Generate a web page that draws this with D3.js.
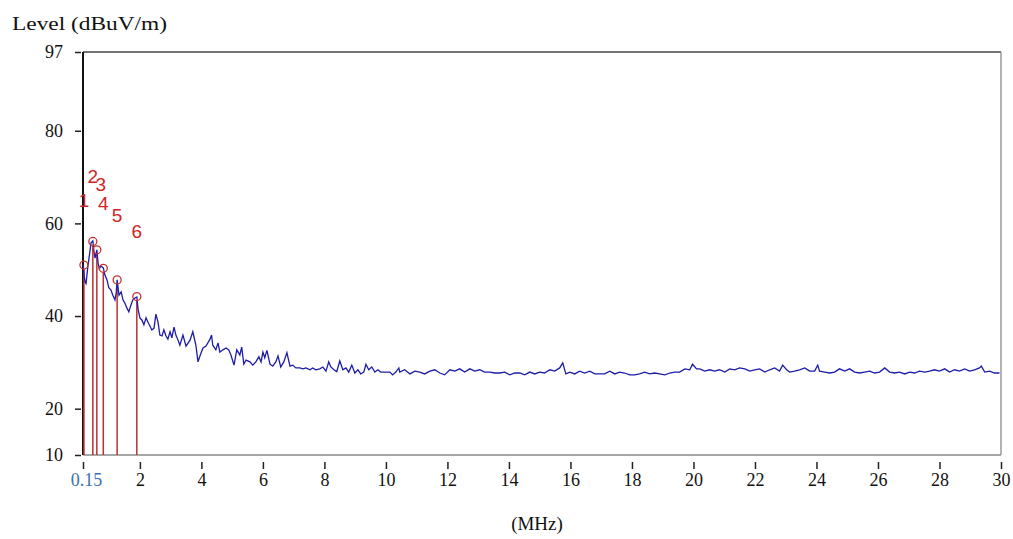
<!DOCTYPE html>
<html>
<head>
<meta charset="utf-8">
<script src="https://cdn.jsdelivr.net/npm/d3@7"></script>
<style>
  html, body { margin: 0; padding: 0; background: #fff; }
  svg { display: block; }
</style>
</head>
<body>
<svg id="chart" width="1013" height="539"></svg>
<script>
// ---- data ----
const yTickValues = [10, 20, 40, 60, 80, 97];
const xTickValues = [0.15, 2, 4, 6, 8, 10, 12, 14, 16, 18, 20, 22, 24, 26, 28, 30];

const traceFreq = [
  0.16, 0.19, 0.22, 0.25, 0.28, 0.31, 0.36, 0.41, 0.47, 0.51, 0.54, 0.60, 0.64, 0.68, 0.73, 0.81,
  0.86, 0.93, 0.99, 1.06, 1.12, 1.19, 1.23, 1.26, 1.32, 1.39, 1.45, 1.51, 1.58, 1.64, 1.71, 1.77,
  1.84, 1.90, 1.94, 2.00, 2.07, 2.13, 2.20, 2.26, 2.33, 2.39, 2.46, 2.52, 2.59, 2.65, 2.72, 2.78,
  2.85, 2.91, 2.98, 3.04, 3.11, 3.17, 3.24, 3.30, 3.40, 3.50, 3.63, 3.72, 3.82, 3.89, 3.95, 4.05,
  4.15, 4.28, 4.33, 4.37, 4.47, 4.54, 4.60, 4.70, 4.80, 4.89, 4.96, 5.06, 5.15, 5.25, 5.31, 5.38,
  5.45, 5.58, 5.67, 5.77, 5.87, 5.94, 6.00, 6.06, 6.13, 6.23, 6.32, 6.42, 6.49, 6.58, 6.68, 6.78,
  6.88, 6.97, 7.07, 7.20, 7.30, 7.40, 7.53, 7.62, 7.72, 7.85, 7.95, 8.05, 8.14, 8.21, 8.31, 8.40,
  8.50, 8.60, 8.70, 8.79, 8.89, 8.99, 9.09, 9.18, 9.28, 9.35, 9.44, 9.54, 9.64, 9.74, 9.83, 9.93,
  10.03, 10.13, 10.22, 10.32, 10.42, 10.45, 10.61, 10.78, 10.94, 11.10, 11.26, 11.43, 11.59, 11.75,
  11.91, 12.08, 12.24, 12.40, 12.56, 12.73, 12.89, 13.05, 13.21, 13.38, 13.54, 13.70, 13.86, 14.03,
  14.19, 14.35, 14.51, 14.68, 14.84, 15.00, 15.16, 15.33, 15.49, 15.65, 15.75, 15.85, 15.98, 16.14,
  16.30, 16.46, 16.63, 16.79, 16.95, 17.11, 17.28, 17.44, 17.60, 17.76, 17.93, 18.09, 18.25, 18.41,
  18.58, 18.74, 18.90, 19.07, 19.23, 19.39, 19.55, 19.72, 19.88, 19.97, 20.10, 20.20, 20.37, 20.53,
  20.69, 20.85, 21.02, 21.18, 21.34, 21.50, 21.67, 21.83, 21.99, 22.15, 22.32, 22.48, 22.64, 22.80,
  22.90, 23.03, 23.13, 23.29, 23.45, 23.62, 23.78, 23.94, 24.04, 24.10, 24.27, 24.43, 24.59, 24.75,
  24.92, 25.08, 25.24, 25.40, 25.57, 25.73, 25.89, 26.05, 26.22, 26.38, 26.54, 26.70, 26.87, 27.03,
  27.19, 27.35, 27.52, 27.68, 27.84, 28.00, 28.17, 28.33, 28.49, 28.65, 28.82, 28.98, 29.14, 29.30,
  29.36, 29.47, 29.63, 29.79, 29.95
];
const traceLevel = [
  51.0, 48.5, 47.3, 47.0, 49.0, 50.8, 53.2, 55.8, 56.2, 53.8, 52.5, 54.3, 51.5, 50.2, 50.8, 50.4,
  48.9, 47.8, 46.1, 45.6, 44.5, 43.5, 45.0, 47.8, 44.5, 45.2, 43.5, 42.8, 41.7, 40.9, 42.4, 43.5,
  43.9, 44.1, 41.5, 39.6, 39.1, 38.1, 39.6, 38.7, 37.8, 37.0, 37.4, 40.4, 38.7, 35.9, 35.7, 37.0,
  35.7, 35.0, 36.6, 35.3, 37.6, 35.9, 34.8, 33.7, 35.9, 33.5, 34.8, 36.6, 33.7, 30.1, 31.3, 33.1,
  33.5, 35.0, 35.9, 33.7, 32.7, 34.2, 32.2, 32.7, 33.1, 32.7, 31.6, 29.4, 32.7, 31.6, 33.3, 29.6,
  30.5, 30.1, 29.4, 30.1, 31.2, 30.1, 32.2, 31.0, 32.6, 29.6, 29.2, 30.1, 31.4, 29.0, 30.1, 32.1,
  29.2, 29.4, 28.8, 28.8, 28.6, 28.8, 28.4, 28.8, 28.4, 28.6, 29.0, 28.1, 30.1, 29.0, 28.4, 28.0,
  30.3, 28.4, 28.8, 27.9, 29.4, 27.7, 28.4, 27.5, 27.9, 29.6, 28.4, 29.0, 27.9, 28.4, 27.9, 27.9,
  27.9, 27.9, 27.3, 27.9, 28.8, 27.9, 28.4, 27.5, 28.1, 27.9, 27.5, 28.1, 28.4, 27.7,
  27.3, 28.4, 28.1, 28.6, 27.9, 28.6, 28.1, 28.4, 27.9, 27.9, 27.7, 27.7, 27.9, 27.3,
  27.7, 27.7, 27.3, 27.9, 27.5, 27.9, 27.7, 28.4, 28.1, 28.8, 29.9, 27.5, 27.9, 27.5,
  28.1, 27.7, 28.1, 27.5, 27.5, 27.5, 28.1, 27.5, 27.9, 27.7, 27.3, 27.3, 27.5, 27.9,
  27.5, 27.7, 27.5, 27.3, 27.7, 27.9, 27.9, 28.6, 28.4, 29.6, 28.6, 28.6, 28.1, 28.4,
  28.1, 28.4, 27.9, 28.6, 28.4, 28.8, 28.6, 28.1, 28.4, 28.6, 27.9, 28.4, 28.8, 28.1,
  29.4, 28.4, 27.9, 28.1, 28.4, 28.8, 28.1, 28.1, 29.4, 28.1, 27.9, 27.7, 27.9, 28.6,
  28.1, 28.6, 27.9, 27.7, 27.9, 28.1, 27.7, 27.9, 28.8, 27.9, 27.7, 27.9, 27.5, 27.9,
  27.7, 28.1, 27.9, 28.1, 28.4, 28.1, 28.6, 27.9, 28.4, 28.1, 28.6, 28.1, 28.4, 28.8,
  29.2, 27.9, 28.1, 27.7, 27.7
];

const markerIds   = ["1", "2", "3", "4", "5", "6"];
const markerFreq  = [0.18, 0.47, 0.60, 0.81, 1.26, 1.90];
const markerLevel = [51.0, 56.1, 54.3, 50.3, 47.8, 44.2];

// ---- layout ----
const svg = d3.select("#chart");
const plotLeft = 83, plotRight = 1001, plotTop = 52, plotBottom = 455;

const x = d3.scaleLinear().domain([0.15, 30]).range([plotLeft, plotRight]);
const y = d3.scaleLinear().domain([10, 97]).range([plotBottom, plotTop]);

const serif = "'Liberation Serif', 'Times New Roman', serif";

// frame
svg.append("line").attr("x1", plotLeft).attr("x2", plotRight).attr("y1", plotTop).attr("y2", plotTop)
  .attr("stroke", "#444").attr("stroke-width", 1.5);
svg.append("line").attr("x1", plotRight).attr("x2", plotRight).attr("y1", plotTop).attr("y2", plotBottom)
  .attr("stroke", "#9a9a9a").attr("stroke-width", 1.5);
svg.append("line").attr("x1", plotLeft).attr("x2", plotRight).attr("y1", plotBottom).attr("y2", plotBottom)
  .attr("stroke", "#8a8a8a").attr("stroke-width", 1.5);

// y axis
const yAxis = svg.append("g").attr("transform", `translate(${plotLeft - 2},0)`)
  .call(d3.axisLeft(y).tickValues(yTickValues).tickSize(6).tickPadding(12).tickFormat(d3.format("d")));
yAxis.select(".domain").remove();
yAxis.selectAll(".tick line").attr("stroke", "#222").attr("stroke-width", 1.5);
yAxis.selectAll(".tick text").attr("font-family", serif).attr("font-size", 18).attr("fill", "#111");

// x axis
const xAxis = svg.append("g").attr("transform", `translate(0,${plotBottom + 7})`)
  .call(d3.axisBottom(x).tickValues(xTickValues).tickSize(7).tickPadding(4)
    .tickFormat(d => d === 0.15 ? "0.15" : d3.format("d")(d)));
xAxis.select(".domain").remove();
xAxis.selectAll(".tick line").attr("stroke", "#222").attr("stroke-width", 1.5);
xAxis.selectAll(".tick text").attr("font-family", serif).attr("font-size", 18).attr("fill", "#111");
xAxis.selectAll(".tick text").filter(d => d === 0.15).attr("fill", "#3a6fb2").attr("dx", 3);

// left axis line
svg.append("line").attr("x1", plotLeft).attr("x2", plotLeft).attr("y1", plotTop).attr("y2", plotBottom)
  .attr("stroke", "#111").attr("stroke-width", 2);

// titles
svg.append("text").attr("x", 12).attr("y", 30).attr("font-family", serif).attr("font-size", 19)
  .attr("fill", "#111").attr("textLength", 155).attr("lengthAdjust", "spacingAndGlyphs")
  .text("Level (dBuV/m)");
svg.append("text").attr("x", 537).attr("y", 530).attr("text-anchor", "middle")
  .attr("font-family", serif).attr("font-size", 19).attr("fill", "#111").text("(MHz)");

// marker lines
const markers = markerIds.map((id, i) => ({ id, f: markerFreq[i], v: markerLevel[i] }));
svg.append("g").selectAll("line").data(markers).join("line")
  .attr("x1", d => x(d.f)).attr("x2", d => x(d.f))
  .attr("y1", y(10)).attr("y2", d => y(d.v) + 4)
  .attr("stroke", "#b83232").attr("stroke-width", 1.5);

// trace
const pts = traceFreq.map((f, i) => [f, traceLevel[i]]);
svg.append("path").datum(pts)
  .attr("fill", "none").attr("stroke", "#1c1ca8").attr("stroke-width", 1.3)
  .attr("d", d3.line().defined(d => d[1] != null).x(d => x(d[0])).y(d => y(d[1])));

// marker circles and labels
svg.append("g").selectAll("circle").data(markers).join("circle")
  .attr("cx", d => x(d.f)).attr("cy", d => y(d.v)).attr("r", 4)
  .attr("fill", "none").attr("stroke", "#c83030").attr("stroke-width", 1.3);
svg.append("g").selectAll("text").data(markers).join("text")
  .attr("x", d => x(d.f)).attr("y", d => y(d.v + 14))
  .attr("dx", d => d.id === "3" ? 4 : 0)
  .attr("text-anchor", "middle").attr("dominant-baseline", "central")
  .attr("font-family", "'Liberation Sans', Arial, sans-serif").attr("font-size", 19)
  .attr("fill", "#d02424").text(d => d.id);
</script>
</body>
</html>
